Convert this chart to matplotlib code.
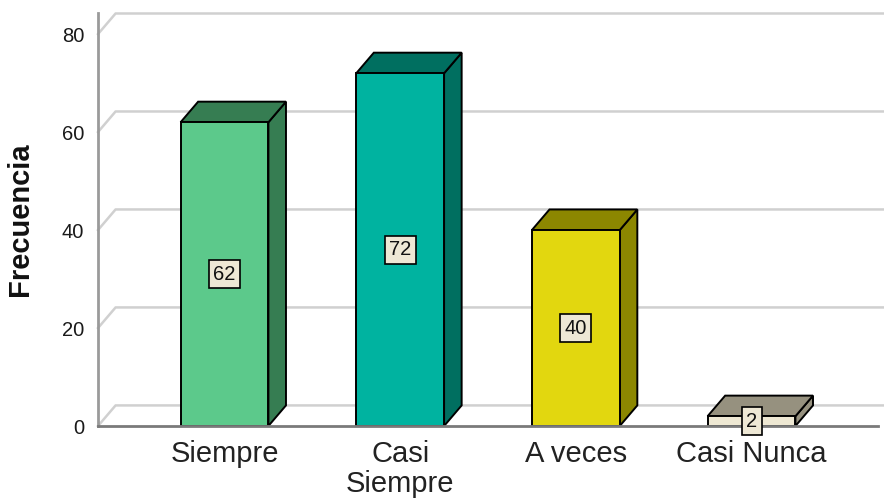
import matplotlib.pyplot as plt
from matplotlib.patches import Polygon
import numpy as np

categorias = ['Siempre', 'Casi\nSiempre', 'A veces', 'Casi Nunca']
frecuencias = [62, 72, 40, 2]
color_frente = ['#5cc98b', '#00b3a0', '#e2d70f', '#eee8d3']
color_lado = ['#367d52', '#006f60', '#8c8700', '#96917f']
y_ticks = [0, 20, 40, 60, 80]

plt.rcParams['font.family'] = ['Liberation Sans', 'DejaVu Sans']

fig = plt.figure(figsize=(8.84, 5.04), dpi=100)
ax = fig.add_axes([98 / 884, 1 - 426 / 504, 780 / 884, 413 / 504])

x_min, x_max = -0.72, 3.72
ax.set_xlim(x_min, x_max)
ax.set_ylim(0, 84.3)

# profundidad del efecto 3D (en unidades de datos)
dx, dy = 0.1, 4.2
ancho = 0.5

# lineas de la pared del fondo
for v in y_ticks:
    ax.plot([x_min, x_min + dx, x_max + 0.2], [v, v + dy, v + dy],
            color='#d0d0d0', lw=1.8, clip_on=False, zorder=1)

for i, (val, cf, cl) in enumerate(zip(frecuencias, color_frente, color_lado)):
    x0 = i - ancho / 2
    x1 = i + ancho / 2
    lado = Polygon([(x1, 0), (x1 + dx, dy), (x1 + dx, val + dy), (x1, val)],
                   closed=True, facecolor=cl, edgecolor='black', lw=1.4, zorder=3)
    arriba = Polygon([(x0, val), (x0 + dx, val + dy), (x1 + dx, val + dy), (x1, val)],
                     closed=True, facecolor=cl, edgecolor='black', lw=1.4, zorder=3)
    ax.add_patch(lado)
    ax.add_patch(arriba)
    ax.bar(i, val, width=ancho, color=cf, edgecolor='black', lw=1.4, zorder=4)
    ax.text(i, val / 2, str(val), ha='center', va='center', fontsize=14.5, color='#111111',
            zorder=6, bbox=dict(boxstyle='square,pad=0.22', fc='#eee8d5', ec='black', lw=1.2))

for s in ['top', 'right']:
    ax.spines[s].set_visible(False)
ax.spines['left'].set_color('#9a9a9a')
ax.spines['left'].set_linewidth(2)
ax.spines['bottom'].set_color('#7a7a7a')
ax.spines['bottom'].set_linewidth(2)
ax.spines['left'].set_zorder(5)
ax.spines['bottom'].set_zorder(5)

ax.set_yticks(y_ticks)
ax.set_xticks(range(len(categorias)))
ax.set_xticklabels(categorias, fontsize=21, color='#222222', linespacing=1.1)
ax.tick_params(axis='y', length=0, pad=10, labelsize=14.5, labelcolor='#1a1a1a')
ax.tick_params(axis='x', length=0, pad=10)

ax.set_ylabel('Frecuencia', fontsize=21, fontweight='bold', color='#111111')
ax.yaxis.set_label_coords(-0.082, 0.5)

fig.savefig('out.png', dpi=100)
